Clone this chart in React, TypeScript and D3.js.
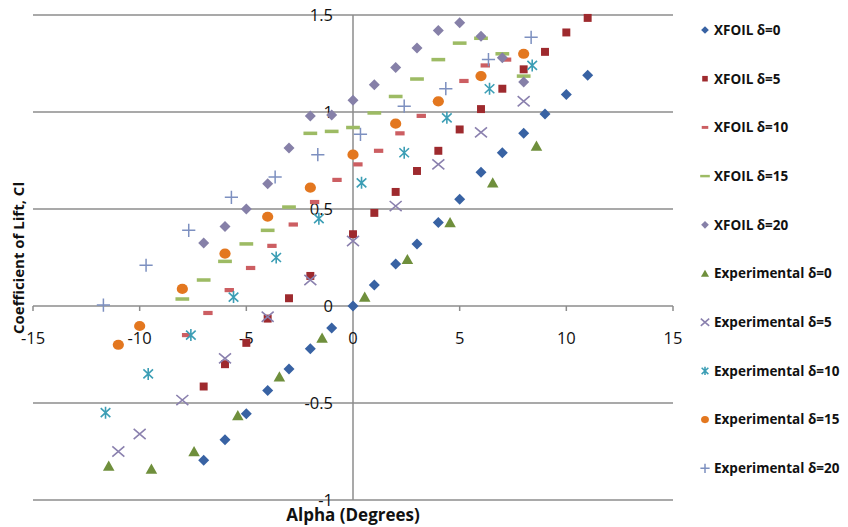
import React from "react";
import * as d3 from "d3";

// ---- data ----
const xfoil0Alpha = [-7, -6, -5, -4, -3, -2, -1, 0, 1, 2, 3, 4, 5, 6, 7, 8, 9, 10, 11];
const xfoil0Cl = [-0.795, -0.69, -0.555, -0.435, -0.325, -0.22, -0.113, 0, 0.108, 0.216, 0.32, 0.43, 0.55, 0.69, 0.79, 0.89, 0.99, 1.09, 1.19];

const xfoil5Alpha = [-7, -6, -5, -4, -3, -2, 0, 1, 2, 3, 4, 5, 6, 7, 8, 9, 10, 11];
const xfoil5Cl = [-0.415, -0.3, -0.19, -0.065, 0.04, 0.155, 0.37, 0.48, 0.588, 0.696, 0.8, 0.91, 1.015, 1.12, 1.22, 1.31, 1.41, 1.485];

const xfoil10Alpha = [-7.8, -6.8, -5.8, -4.8, -3.8, -2.8, -1.8, -0.75, 0.23, 1.2, 2.2, 3.2, 5.2, 6.2, 7.2];
const xfoil10Cl = [-0.15, -0.036, 0.082, 0.196, 0.31, 0.42, 0.536, 0.65, 0.73, 0.8, 0.89, 0.98, 1.16, 1.24, 1.27];

const xfoil15Alpha = [-8, -7, -6, -5, -4, -3, -2, -1, 0, 1, 2, 3, 4, 5, 6, 7, 8];
const xfoil15Cl = [0.036, 0.134, 0.23, 0.32, 0.39, 0.51, 0.89, 0.9, 0.92, 0.995, 1.08, 1.17, 1.27, 1.355, 1.38, 1.3, 1.185];

const xfoil20Alpha = [-7, -6, -5, -4, -3, -2, -1, 0, 1, 2, 3, 4, 5, 6, 7, 8];
const xfoil20Cl = [0.325, 0.41, 0.5, 0.63, 0.815, 0.98, 0.985, 1.06, 1.14, 1.23, 1.33, 1.42, 1.46, 1.39, 1.28, 1.155];

const exp0Alpha = [-11.45, -9.45, -7.45, -5.4, -3.45, -1.45, 0.55, 2.55, 4.55, 6.55, 8.6];
const exp0Cl = [-0.825, -0.84, -0.75, -0.565, -0.365, -0.165, 0.046, 0.24, 0.43, 0.635, 0.825];

const exp5Alpha = [-11, -10, -8, -6, -4, -2, 0, 2, 4, 6, 8];
const exp5Cl = [-0.75, -0.66, -0.485, -0.27, -0.055, 0.134, 0.335, 0.515, 0.73, 0.895, 1.055];

const exp10Alpha = [-11.6, -9.6, -7.6, -5.6, -3.6, -1.6, 0.4, 2.4, 4.4, 6.4, 8.4];
const exp10Cl = [-0.55, -0.35, -0.15, 0.046, 0.25, 0.45, 0.635, 0.79, 0.97, 1.12, 1.24];

const exp15Alpha = [-11, -10, -8, -6, -4, -2, 0, 2, 4, 6, 8];
const exp15Cl = [-0.2, -0.103, 0.088, 0.27, 0.46, 0.61, 0.78, 0.94, 1.055, 1.185, 1.3];

const exp20Alpha = [-11.7, -9.7, -7.7, -5.7, -3.65, -1.65, 0.35, 2.4, 4.35, 6.35, 8.35];
const exp20Cl = [0.005, 0.21, 0.39, 0.56, 0.665, 0.78, 0.885, 1.03, 1.12, 1.27, 1.385];

const seriesNames = [
  "XFOIL δ=0", "XFOIL δ=5", "XFOIL δ=10", "XFOIL δ=15", "XFOIL δ=20",
  "Experimental δ=0", "Experimental δ=5", "Experimental δ=10", "Experimental δ=15", "Experimental δ=20",
];
const seriesAlpha = [xfoil0Alpha, xfoil5Alpha, xfoil10Alpha, xfoil15Alpha, xfoil20Alpha, exp0Alpha, exp5Alpha, exp10Alpha, exp15Alpha, exp20Alpha];
const seriesCl = [xfoil0Cl, xfoil5Cl, xfoil10Cl, xfoil15Cl, xfoil20Cl, exp0Cl, exp5Cl, exp10Cl, exp15Cl, exp20Cl];
const seriesShape = ["diamond", "square", "dashShort", "dashLong", "diamond", "triangle", "x", "star", "circle", "plus"];
const seriesColor = ["#3862a3", "#9e2a2e", "#cc5e62", "#9dbb64", "#8680a8", "#6f8f3c", "#8a80ae", "#3c9eb5", "#e3771f", "#7d90c0"];

const xTicks = [-15, -10, -5, 0, 5, 10, 15];
const yTicks = [-1, -0.5, 0, 0.5, 1, 1.5];

const W = 848;
const H = 527;

function Marker({ shape, color, cx, cy, s }: { shape: string; color: string; cx: number; cy: number; s: number }) {
  switch (shape) {
    case "diamond":
      return <path d={`M${cx},${cy - s}L${cx + s},${cy}L${cx},${cy + s}L${cx - s},${cy}Z`} fill={color} />;
    case "square":
      return <rect x={cx - s * 0.75} y={cy - s * 0.75} width={s * 1.5} height={s * 1.5} fill={color} />;
    case "dashShort":
      return <rect x={cx - s * 0.85} y={cy - s * 0.38} width={s * 1.7} height={s * 0.76} fill={color} />;
    case "dashLong":
      return <rect x={cx - s * 1.25} y={cy - s * 0.32} width={s * 2.5} height={s * 0.64} fill={color} />;
    case "triangle":
      return <path d={`M${cx},${cy - s}L${cx + s * 1.05},${cy + s * 0.85}L${cx - s * 1.05},${cy + s * 0.85}Z`} fill={color} />;
    case "x":
      return (
        <path d={`M${cx - s},${cy - s * 0.85}L${cx + s},${cy + s * 0.85}M${cx + s},${cy - s * 0.85}L${cx - s},${cy + s * 0.85}`} stroke={color} strokeWidth={1.6} fill="none" />
      );
    case "star":
      return (
        <path d={`M${cx - s * 0.8},${cy - s * 0.75}L${cx + s * 0.8},${cy + s * 0.75}M${cx + s * 0.8},${cy - s * 0.75}L${cx - s * 0.8},${cy + s * 0.75}M${cx},${cy - s}L${cx},${cy + s}`} stroke={color} strokeWidth={1.6} fill="none" />
      );
    case "circle":
      return <ellipse cx={cx} cy={cy} rx={s * 1.02} ry={s * 0.92} fill={color} />;
    case "plus":
      return <path d={`M${cx - s * 1.1},${cy}L${cx + s * 1.1},${cy}M${cx},${cy - s * 1.1}L${cx},${cy + s * 1.1}`} stroke={color} strokeWidth={1.5} fill="none" />;
    default:
      return null;
  }
}

const markerSize: Record<string, number> = {
  diamond: 5.5, square: 5.3, dashShort: 5.5, dashLong: 5.5, triangle: 5.5, x: 6, star: 6, circle: 5.5, plus: 6,
};

export default function App() {
  const x = d3.scaleLinear().domain([-15, 15]).range([33, 673]);
  const y = d3.scaleLinear().domain([-1, 1.5]).range([500, 15]);
  const grid = "#8c8c8c";
  const font = "'Open Sans', Lato, sans-serif";

  return (
    <svg width={W} height={H} style={{ position: "absolute", left: 0, top: 0, background: "#fff" }} fontFamily={font}>
      {/* gridlines */}
      {yTicks.map((t) => (
        <line key={"g" + t} x1={x(-15)} x2={x(15)} y1={y(t)} y2={y(t)} stroke={grid} strokeWidth={1.5} />
      ))}
      {/* y axis line */}
      <line x1={x(0)} x2={x(0)} y1={y(1.5)} y2={y(-1)} stroke={grid} strokeWidth={1.5} />
      {/* x ticks */}
      {xTicks.map((t) => (
        <line key={"t" + t} x1={x(t)} x2={x(t)} y1={y(0)} y2={y(0) + 5} stroke={grid} strokeWidth={1.5} />
      ))}
      {/* tick labels */}
      {xTicks.map((t) => (
        <text key={"xl" + t} x={x(t)} y={y(0) + 38} textAnchor="middle" fontSize={16.5} fill="#111">
          {t < 0 ? "-" + Math.abs(t) : String(t)}
        </text>
      ))}
      {yTicks.map((t) => (
        <text key={"yl" + t} x={x(0) - 20} y={y(t)} dy="0.36em" textAnchor="end" fontSize={16.5} fill="#111">
          {t < 0 ? "-" + Math.abs(t) : String(t)}
        </text>
      ))}
      {/* data */}
      {seriesNames.map((name, i) => (
        <g key={name}>
          {seriesAlpha[i].map((a, j) => (
            <Marker key={j} shape={seriesShape[i]} color={seriesColor[i]} cx={x(a)} cy={y(seriesCl[i][j])} s={markerSize[seriesShape[i]]} />
          ))}
        </g>
      ))}
      {/* axis titles */}
      <text x={x(0)} y={521} textAnchor="middle" fontSize={17} fontWeight="bold" fill="#111">
        Alpha (Degrees)
      </text>
      <text transform={`translate(24,258) rotate(-90)`} textAnchor="middle" fontSize={15} fontWeight="bold" fill="#111">
        Coefficient of Lift, Cl
      </text>
      {/* legend */}
      {seriesNames.map((name, i) => {
        const ly = 30 + i * 48.7;
        return (
          <g key={"lg" + name}>
            <Marker shape={seriesShape[i]} color={seriesColor[i]} cx={705} cy={ly} s={markerSize[seriesShape[i]] * 0.7} />
            <text x={714} y={ly} dy="0.36em" fontSize={13.5} fontWeight="bold" fill="#111">
              {name}
            </text>
          </g>
        );
      })}
    </svg>
  );
}
